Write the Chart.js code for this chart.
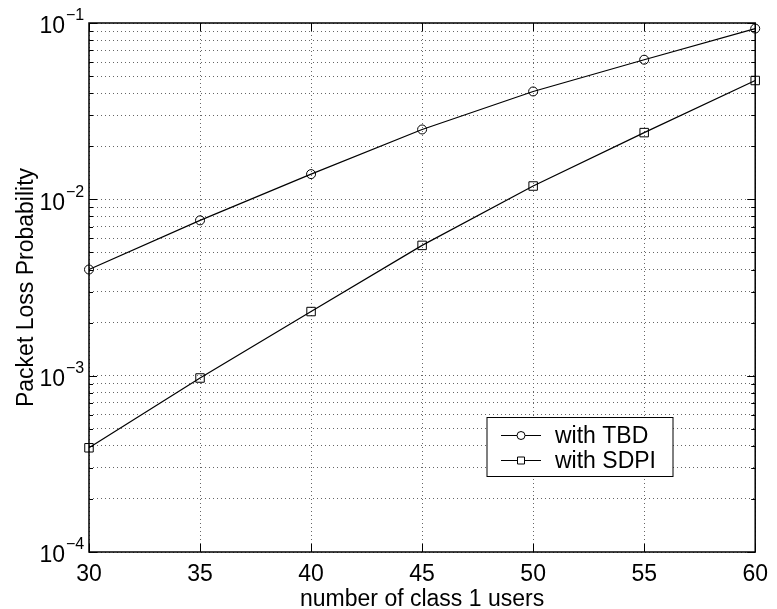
<!DOCTYPE html>
<html>
<head>
<meta charset="utf-8">
<script src="https://cdn.jsdelivr.net/npm/chart.js@4/dist/chart.umd.min.js"></script>
<style>
  body { margin: 0; background: #fff; }
</style>
</head>
<body>
<canvas id="graf" width="777" height="609"></canvas>
<script>
// datos
const usuarios = [30, 35, 40, 45, 50, 55, 60];
const perdidaTBD = [0.0040, 0.0076, 0.0139, 0.0249, 0.0409, 0.0619, 0.093];
const perdidaSDPI = [0.00039, 0.00097, 0.00231, 0.00548, 0.0119, 0.0239, 0.0472];
const etiquetas = ['with TBD', 'with SDPI'];

const xTicks = [30, 35, 40, 45, 50, 55, 60];
const yDecadas = [0.0001, 0.001, 0.01, 0.1];
const yExponentes = ['\u22124', '\u22123', '\u22122', '\u22121'];
const yGrid = [
  0.0001, 0.0002, 0.0003, 0.0004, 0.0005, 0.0006, 0.0007, 0.0008, 0.0009,
  0.001, 0.002, 0.003, 0.004, 0.005, 0.006, 0.007, 0.008, 0.009,
  0.01, 0.02, 0.03, 0.04, 0.05, 0.06, 0.07, 0.08, 0.09,
  0.1
];

const fuente = 'Liberation Sans, Arial, Helvetica, sans-serif';

// marco, marcas internas, etiquetas 10^n y leyenda
const marco = {
  id: 'marco',
  afterDraw(chart) {
    let ctx = chart.ctx;
    let a = chart.chartArea;
    let xs = chart.scales.x;
    let ys = chart.scales.y;
    ctx.save();
    ctx.strokeStyle = '#000';
    ctx.lineWidth = 1.5;
    ctx.strokeRect(a.left, a.top, a.right - a.left, a.bottom - a.top);

    // marcas del eje x (arriba y abajo)
    ctx.lineWidth = 1;
    ctx.beginPath();
    xTicks.forEach(v => {
      let px = Math.round(xs.getPixelForValue(v)) + 0.5;
      ctx.moveTo(px, a.bottom); ctx.lineTo(px, a.bottom - 8);
      ctx.moveTo(px, a.top); ctx.lineTo(px, a.top + 8);
    });
    // marcas del eje y
    yGrid.forEach(v => {
      let py = Math.round(ys.getPixelForValue(v)) + 0.5;
      let largo = yDecadas.includes(v) ? 8 : 4;
      ctx.moveTo(a.left, py); ctx.lineTo(a.left + largo, py);
      ctx.moveTo(a.right, py); ctx.lineTo(a.right - largo, py);
    });
    ctx.stroke();

    // etiquetas 10^n
    ctx.fillStyle = '#000';
    yDecadas.forEach((v, i) => {
      let py = ys.getPixelForValue(v);
      ctx.font = '23px ' + fuente;
      ctx.textAlign = 'right';
      ctx.textBaseline = 'middle';
      ctx.fillText('10', 65, py + 4);
      ctx.font = '16px ' + fuente;
      ctx.textAlign = 'left';
      ctx.fillText(yExponentes[i], 66, py - 7);
    });

    // leyenda
    let lx = 487, ly = 417.5, lw = 186, lh = 59;
    ctx.fillStyle = '#fff';
    ctx.fillRect(lx, ly, lw, lh);
    ctx.lineWidth = 1;
    ctx.strokeStyle = '#000';
    ctx.strokeRect(lx, ly, lw, lh);
    chart.data.datasets.forEach((ds, i) => {
      let fy = ly + 18 + i * 25;
      ctx.beginPath();
      ctx.moveTo(lx + 14, fy); ctx.lineTo(lx + 54, fy);
      ctx.stroke();
      ctx.beginPath();
      if (ds.pointStyle == 'circle') {
        ctx.arc(lx + 34, fy, 4, 0, Math.PI * 2);
      } else {
        ctx.rect(lx + 30.5, fy - 3.5, 7, 7);
      }
      ctx.fillStyle = '#fff';
      ctx.fill();
      ctx.stroke();
      ctx.fillStyle = '#000';
      ctx.font = '23px ' + fuente;
      ctx.textAlign = 'left';
      ctx.textBaseline = 'middle';
      ctx.fillText(ds.label, lx + 68, fy + 1);
    });
    ctx.restore();
  }
};

let ctx = document.getElementById('graf').getContext('2d');
let graf = new Chart(ctx, {
  type: 'line',
  data: {
    datasets: [{
      label: etiquetas[0],
      data: usuarios.map((u, i) => ({x: u, y: perdidaTBD[i]})),
      borderColor: '#000',
      borderWidth: 1.2,
      pointStyle: 'circle',
      pointRadius: 4.5,
      pointBorderWidth: 1,
      pointBorderColor: '#000',
      pointBackgroundColor: 'rgba(255,255,255,0)',
      tension: 0,
      clip: false
    }, {
      label: etiquetas[1],
      data: usuarios.map((u, i) => ({x: u, y: perdidaSDPI[i]})),
      borderColor: '#000',
      borderWidth: 1.2,
      pointStyle: 'rect',
      pointRadius: 6,
      pointBorderWidth: 1,
      pointBorderColor: '#000',
      pointBackgroundColor: 'rgba(255,255,255,0)',
      tension: 0,
      clip: false
    }]
  },
  options: {
    responsive: false,
    animation: false,
    layout: { padding: { left: 0, top: 23, right: 18, bottom: 0 } },
    plugins: {
      legend: { display: false },
      tooltip: { enabled: false }
    },
    scales: {
      x: {
        type: 'linear',
        min: 30,
        max: 60,
        afterBuildTicks: s => { s.ticks = xTicks.map(v => ({value: v})); },
        afterFit: s => { s.height = 57; },
        ticks: {
          color: '#000',
          padding: 9,
          font: { family: fuente, size: 23 }
        },
        grid: {
          color: '#666',
          lineWidth: 1,
          drawTicks: false
        },
        border: { display: false, dash: [1, 3] },
        title: {
          display: true,
          text: 'number of class 1 users',
          color: '#000',
          padding: { top: 0, bottom: -4 },
          font: { family: fuente, size: 23 }
        }
      },
      y: {
        type: 'logarithmic',
        min: 0.0001,
        max: 0.1,
        afterBuildTicks: s => { s.ticks = yGrid.map(v => ({value: v})); },
        afterFit: s => { s.width = 89; },
        ticks: { display: false },
        grid: {
          color: '#666',
          lineWidth: 1,
          drawTicks: false
        },
        border: { display: false, dash: [1, 3] },
        title: {
          display: true,
          text: 'Packet Loss Probability',
          color: '#000',
          padding: { top: 13, bottom: 0 },
          font: { family: fuente, size: 23 }
        }
      }
    }
  },
  plugins: [marco]
});
</script>
</body>
</html>
